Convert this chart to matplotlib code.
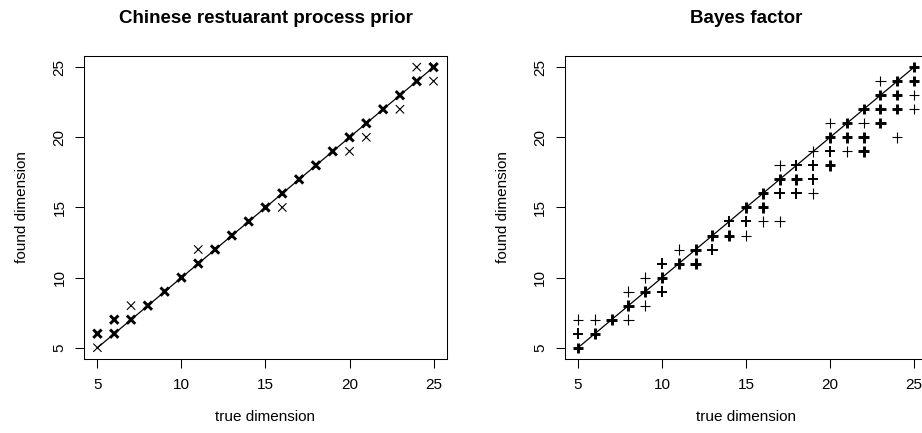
import numpy as np
import matplotlib
matplotlib.use("Agg")
import matplotlib.pyplot as plt

plt.rcParams['font.family'] = ['Liberation Sans', 'DejaVu Sans']

# Chinese restaurant process prior: true vs found dimension, weight = how many runs overlap
true_crp = [5, 5, 6, 6, 7, 7, 8, 9, 10, 11, 11, 12, 13, 14, 15, 16, 16,
            17, 18, 19, 20, 20, 21, 21, 22, 23, 23, 24, 24, 25, 25]
found_crp = [6, 5, 7, 6, 8, 7, 8, 9, 10, 11, 12, 12, 13, 14, 15, 16, 15,
             17, 18, 19, 20, 19, 21, 20, 22, 23, 22, 24, 25, 25, 24]
weight_crp = [3, 1, 3, 3, 1, 3, 3, 3, 3, 3, 1, 3, 3, 3, 3, 3, 1,
              3, 3, 3, 3, 1, 3, 1, 3, 3, 1, 3, 1, 3, 1]

# Bayes factor
true_bf = [5, 5, 5, 6, 6, 7, 8, 8, 8, 9, 9, 9, 10, 10, 10, 11, 11, 12, 12,
           13, 13, 14, 14, 15, 15, 15, 16, 16, 16, 17, 17, 17, 17, 18, 18, 18,
           19, 19, 19, 19, 20, 20, 20, 20, 21, 21, 21, 22, 22, 22, 22,
           23, 23, 23, 23, 24, 24, 24, 24, 25, 25, 25, 25]
found_bf = [7, 6, 5, 7, 6, 7, 9, 8, 7, 10, 9, 8, 11, 10, 9, 12, 11, 12, 11,
            13, 12, 14, 13, 15, 14, 13, 16, 15, 14, 18, 17, 16, 14, 18, 17, 16,
            19, 18, 17, 16, 21, 20, 19, 18, 21, 20, 19, 22, 21, 20, 19,
            24, 23, 22, 21, 24, 23, 22, 20, 25, 24, 23, 22]
weight_bf = [1, 2, 3, 1, 3, 3, 1, 3, 1, 1, 3, 1, 2, 3, 2, 1, 3, 3, 3,
             3, 2, 2, 3, 3, 2, 1, 3, 3, 1, 1, 3, 2, 1, 2, 3, 2,
             1, 2, 2, 1, 1, 3, 2, 3, 3, 3, 1, 3, 1, 3, 3,
             1, 3, 3, 3, 3, 3, 3, 1, 3, 3, 1, 1]

ticks = [5, 10, 15, 20, 25]
lw_map = {1: 0.8, 2: 1.4, 3: 2.1}

fig = plt.figure(figsize=(9.22, 4.33), dpi=100)
ax1 = fig.add_axes([0.0911, 0.171, 0.3937, 0.6998])
ax2 = fig.add_axes([0.6123, 0.171, 0.3937, 0.6998])


def panel(ax, xs, ys, ws, marker, size, title):
    lws = [lw_map[w] for w in ws]
    ax.scatter(xs, ys, s=size ** 2, marker=marker, c='black', linewidths=lws, zorder=3)
    ax.plot([5, 25], [5, 25], color='black', lw=0.9, zorder=2)
    ax.set_xlim(4.2, 25.8)
    ax.set_ylim(4.2, 25.8)
    ax.set_xticks(ticks)
    ax.set_yticks(ticks)
    ax.tick_params(direction='out', length=6.5, width=0.75, labelsize=11, pad=7)
    ax.tick_params(axis='y', pad=6)
    for lab in ax.get_yticklabels():
        lab.set_rotation(90)
        lab.set_va('center')
    for sp in ax.spines.values():
        sp.set_linewidth(0.75)
    ax.set_xlabel('true dimension', fontsize=11, labelpad=13)
    ax.set_ylabel('found dimension', fontsize=11, labelpad=17)
    ax.set_title(title, fontsize=13.5, fontweight='bold', pad=24)


panel(ax1, true_crp, found_crp, weight_crp, 'x', 6.0, 'Chinese restuarant process prior')
panel(ax2, true_bf, found_bf, weight_bf, '+', 7.5, 'Bayes factor')

fig.savefig('out.png', dpi=100)
